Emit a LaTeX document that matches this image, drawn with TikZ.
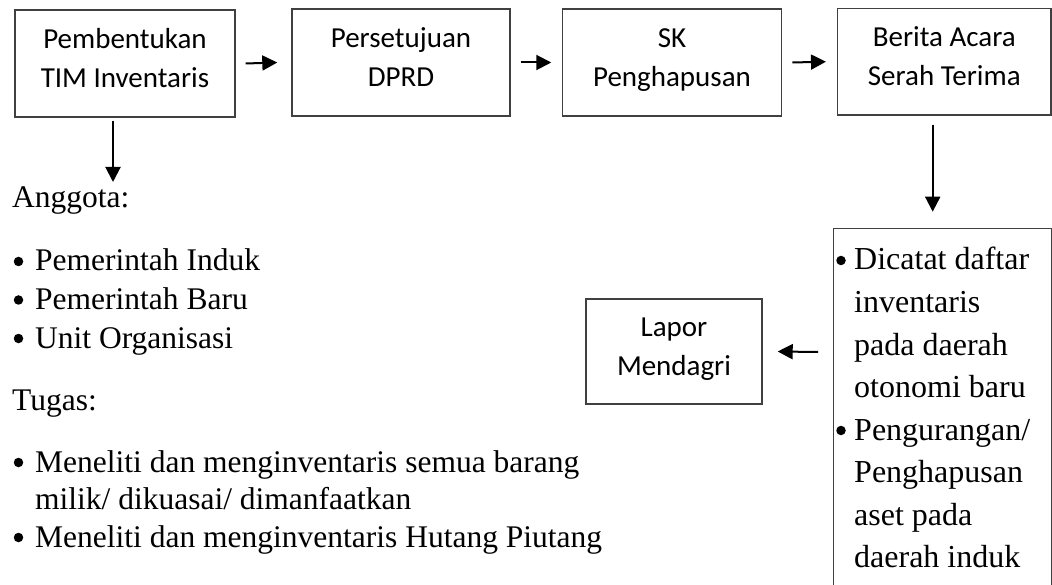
\documentclass[tikz,border=0pt]{standalone}
\usepackage{fontspec}
\setmainfont{Liberation Serif}
\newfontfamily\boxfont{Carlito}
\usetikzlibrary{arrows.meta}
\newcommand{\boxtext}[2]{\parbox[c][85pt][t]{172pt}{\centering\strut #1\\#2}}
\begin{document}
\begin{tikzpicture}[x=1pt,y=-1pt,
  flowbox/.style={draw=black!75, line width=1.4pt, inner sep=0pt, align=center,
    font=\boxfont\fontsize{29}{39}\selectfont},
  arr/.style={line width=2pt, -{Triangle[length=15pt,width=15pt]}},
  ltxt/.style={anchor=base west, inner sep=0pt, font=\fontsize{31.5}{37}\selectfont},
  rtxt/.style={anchor=base west, inner sep=0pt, font=\fontsize{32}{40}\selectfont},
  dot/.style={circle, fill=black, inner sep=0pt, minimum size=9.5pt, anchor=center},
  lbul/.style={ltxt, label={[dot, xshift=-16.5pt, yshift=9.5pt]base west:{}}},
  rbul/.style={rtxt, label={[dot, xshift=-13pt, yshift=9.5pt]base west:{}}},
]
\useasboundingbox[fill=white] (0,0) rectangle (1052,585);

% top row
\node[flowbox, minimum width=220pt, minimum height=107pt] (b1) at (125,63.5) {\boxtext{Pembentukan}{TIM Inventaris}};
\node[flowbox, minimum width=218pt, minimum height=107pt] (b2) at (401,62.5) {\boxtext{Persetujuan}{DPRD}};
\node[flowbox, minimum width=219.3pt, minimum height=107pt] (b3) at (672,62.5) {\boxtext{SK}{Penghapusan}};
\node[flowbox, minimum width=213.3pt, minimum height=106.7pt] (b4) at (944.3,61.7) {\boxtext{Berita Acara}{Serah Terima}};

\draw[arr] ([xshift=10pt]b1.east) -- ([xshift=-14pt]b2.west);
\draw[arr] ([xshift=10pt]b2.east) -- ([xshift=-10.4pt]b3.west);
\draw[arr] ([xshift=10pt]b3.east) -- ([xshift=-11pt]b4.west);

% right column box
\node[draw=black!75, line width=1.4pt, inner sep=0pt, minimum width=218.3pt, minimum height=400pt, anchor=north west] (b5) at (832.7,227.7) {};
\coordinate (d4) at ([xshift=-11.6pt,yshift=-9pt]b4.south);
\draw[arr] (d4) -- ([yshift=16pt]b5.north -| d4);

\node[flowbox, minimum width=176pt, minimum height=105pt] (b6) at (674,351.5) {\boxtext{Lapor}{Mendagri}};
\coordinate (r0) at (818,352);
\draw[arr] (r0) -- ([xshift=15pt]b6.east);

% right box text
\node[rbul] (r1) at (854,270) {Dicatat daftar};
\node[rtxt] (r2) at (854,312.5) {inventaris};
\node[rtxt] (r3) at (854,355) {pada daerah};
\node[rtxt] (r4) at (854,397.5) {otonomi baru};
\node[rbul] (r5) at (854,440) {Pengurangan/};
\node[rtxt] (r6) at (854,482.5) {Penghapusan};
\node[rtxt] (r7) at (854,525) {aset pada};
\node[rtxt] (r8) at (854,567.5) {daerah induk};

% left text
\coordinate (c1) at (113,182);
\draw[arr] ([yshift=-3pt]b1.south -| c1) -- (c1);
\node[ltxt] (a0) at (12,208) {Anggota:};
\node[lbul] (a1) at (35,271) {Pemerintah Induk};
\node[lbul] (a2) at (35,309.5) {Pemerintah Baru};
\node[lbul] (a3) at (35,348) {Unit Organisasi};
\node[ltxt] (t0) at (12,410) {Tugas:};
\node[lbul] (t1) at (35,472) {Meneliti dan menginventaris semua barang};
\node[ltxt] (t1b) at (35,509) {milik/ dikuasai/ dimanfaatkan};
\node[lbul] (t2) at (35,547) {Meneliti dan menginventaris Hutang Piutang};
\end{tikzpicture}
\end{document}
